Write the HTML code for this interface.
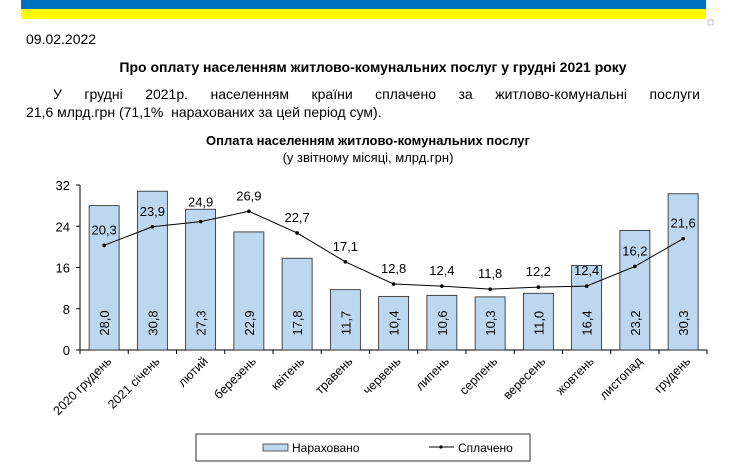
<!DOCTYPE html>
<html><head><meta charset="utf-8"><style>
body{margin:0;background:#fff;width:733px;height:475px;overflow:hidden;font-family:"Liberation Sans","DejaVu Sans",sans-serif;position:relative;}
.p{position:absolute;left:26px;width:674px;font-size:14px;line-height:18px;white-space:nowrap;}
#p1{top:85px;text-align:justify;text-align-last:justify;white-space:normal;}
#p2{top:103px;}
svg{position:absolute;left:0;top:0;}
</style></head><body>
<svg id="s" width="733" height="475" xmlns="http://www.w3.org/2000/svg" font-family="Liberation Sans, DejaVu Sans, sans-serif">
<rect x="21" y="0" width="685" height="9" fill="#0070c0"/>
<rect x="21" y="9" width="685" height="10" fill="#ffff00"/>
<rect x="708" y="20" width="5" height="5" fill="none" stroke="#999" stroke-width="0.6"/>
<text x="26" y="44" font-size="14">09.02.2022</text>
<text x="373" y="72" font-size="14" font-weight="bold" text-anchor="middle">Про оплату населенням житлово-комунальних послуг у грудні 2021 року</text>
<text x="368" y="145" font-size="13" font-weight="bold" text-anchor="middle">Оплата населенням житлово-комунальних послуг</text>
<text x="368" y="162" font-size="13" text-anchor="middle">(у звітному місяці, млрд.грн)</text>
<g id="c"></g>
<rect x="196" y="434" width="334" height="27" fill="none" stroke="#000" stroke-width="0.8"/>
<rect x="263" y="444" width="25" height="7" fill="#bdd7ee" stroke="#333" stroke-width="0.8"/>
<text x="292" y="452" font-size="12">Нараховано</text>
<line x1="429" y1="447" x2="454" y2="447" stroke="#000"/>
<circle cx="441" cy="447" r="1.6"/>
<text x="458" y="452" font-size="12">Сплачено</text>
</svg>
<div class="p" id="p1"><span style="padding-left:27px"></span>У грудні 2021р. населенням країни сплачено за житлово-комунальні послуги</div>
<div class="p" id="p2">21,6 млрд.грн (71,1%&nbsp; нарахованих за цей період сум).</div>
<script>
var bars=[28.0,30.8,27.3,22.9,17.8,11.7,10.4,10.6,10.3,11.0,16.4,23.2,30.3];
var line=[20.3,23.9,24.9,26.9,22.7,17.1,12.8,12.4,11.8,12.2,12.4,16.2,21.6];
var off=[11,11,15,11,11,11,11,11,11,11,11,11,11];
var cats=["2020 грудень","2021 січень","лютий","березень","квітень","травень","червень","липень","серпень","вересень","жовтень","листопад","грудень"];
var x0=80,w=48.25,y0=350,k=5.156,h='';
function Y(v){return y0-v*k;}
for(var i=0;i<=4;i++){var y=Y(i*8);h+='<line x1="76" y1="'+y+'" x2="80" y2="'+y+'" stroke="#000"/><text x="70" y="'+(y+5)+'" font-size="13" text-anchor="end">'+(i*8)+'</text>';}
h+='<line x1="80" y1="'+Y(32)+'" x2="80" y2="350" stroke="#000"/><line x1="80" y1="350" x2="707" y2="350" stroke="#000"/>';
var pts=[];
bars.forEach(function(b,i){var cx=x0+w*i+w/2;
h+='<rect x="'+(cx-15)+'" y="'+Y(b)+'" width="30" height="'+(b*k)+'" fill="#bdd7ee" stroke="#222" stroke-width="0.8"/>';
h+='<text transform="translate('+(cx+5)+',323) rotate(-90)" font-size="13" text-anchor="middle">'+b.toFixed(1).replace('.',',')+'</text>';
h+='<line x1="'+(x0+w*i)+'" y1="350" x2="'+(x0+w*i)+'" y2="354" stroke="#000"/>';
h+='<text transform="translate('+(cx+8)+',362) rotate(-45)" font-size="12.5" text-anchor="end">'+cats[i]+'</text>';
pts.push(cx+','+Y(line[i]));});
h+='<line x1="707" y1="350" x2="707" y2="354" stroke="#000"/>';
h+='<polyline points="'+pts.join(' ')+'" fill="none" stroke="#000" stroke-width="1"/>';
line.forEach(function(v,i){var cx=x0+w*i+w/2;h+='<circle cx="'+cx+'" cy="'+Y(v)+'" r="1.8"/><text x="'+cx+'" y="'+(Y(v)-off[i])+'" font-size="13" text-anchor="middle">'+v.toFixed(1).replace('.',',')+'</text>';});
document.getElementById('c').innerHTML=h;
</script>
</body></html>
